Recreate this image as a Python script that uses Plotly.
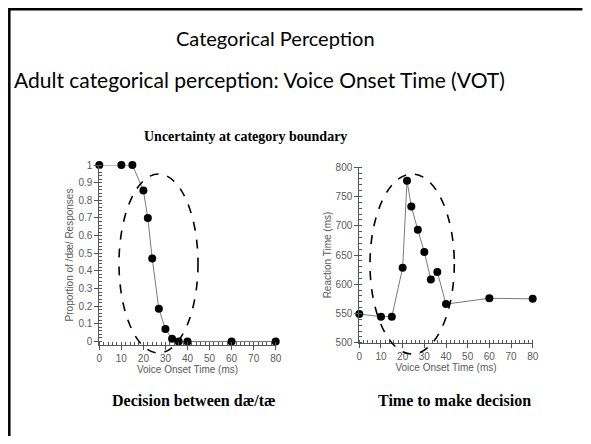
import plotly.graph_objects as go

# page has an 8px body margin on every side; keep the figure inside the window
OFF = 8
W, H = 591 - 2 * OFF, 444 - 2 * OFF

# ---- data ----
vot = [0, 10, 15, 20, 22, 24, 27, 30, 33, 36, 40, 60, 80]
prop_dae = [1, 1, 1, 0.855, 0.70, 0.47, 0.185, 0.07, 0.015, 0, 0, 0, 0]
reaction_ms = [549, 544.5, 544.5, 628, 777, 733, 693, 655, 608, 621, 566, 576, 575]

main_title = "Categorical Perception"
subtitle = "Adult categorical perception: Voice Onset Time (VOT)"
chart_heading = "Uncertainty at category boundary"
left_caption = "Decision between dæ/tæ"
right_caption = "Time to make decision"


def px(x):
    return (x - OFF) / W


def py(y):
    return 1 - (y - OFF) / H


fig = go.Figure()
line_style = dict(color="#7a7a7a", width=1)
marker_style = dict(color="black", size=8)

fig.add_trace(go.Scatter(x=vot, y=prop_dae, mode="lines+markers", line=line_style,
                         marker=marker_style, xaxis="x", yaxis="y", cliponaxis=False,
                         showlegend=False))
fig.add_trace(go.Scatter(x=vot, y=reaction_ms, mode="lines+markers", line=line_style,
                         marker=marker_style, xaxis="x2", yaxis="y2", cliponaxis=False,
                         showlegend=False))

axis_font = dict(family="Liberation Sans, Arial", size=10, color="#5a5a5a")
common = dict(showline=True, linecolor="#555555", linewidth=1, showgrid=False,
              zeroline=False, ticks="outside", ticklen=4, tickcolor="#555555",
              tickfont=axis_font, automargin=False)

fig.update_layout(
    width=W, height=H,
    margin=dict(l=0, r=0, t=0, b=0),
    paper_bgcolor="white", plot_bgcolor="white",
    template="none",
    xaxis=dict(domain=[px(99.3), px(275.7)], range=[0, 80], anchor="y",
               tickvals=[0, 10, 20, 30, 40, 50, 60, 70, 80],
               minor=dict(dtick=2, ticks="inside", ticklen=3, tickcolor="#555555"),
               title=dict(text="Voice Onset Time (ms)", font=axis_font, standoff=2),
               **common),
    yaxis=dict(domain=[py(345), py(165)], range=[-0.02, 1], anchor="x",
               tickvals=[0, 0.1, 0.2, 0.3, 0.4, 0.5, 0.6, 0.7, 0.8, 0.9, 1],
               ticktext=["0", "0.1", "0.2", "0.3", "0.4", "0.5", "0.6", "0.7", "0.8", "0.9", "1"],
               minor=dict(dtick=0.02, tick0=0, ticks="inside", ticklen=3, tickcolor="#555555"),
               title=dict(text="Proportion of /dæ/ Responses", font=axis_font, standoff=2),
               **common),
    xaxis2=dict(domain=[px(359.3), px(532.7)], range=[0, 80], anchor="y2",
                tickvals=[0, 10, 20, 30, 40, 50, 60, 70, 80],
                minor=dict(dtick=2, ticks="inside", ticklen=3, tickcolor="#555555"),
                title=dict(text="Voice Onset Time (ms)", font=axis_font, standoff=2),
                **common),
    yaxis2=dict(domain=[py(342.7), py(167.3)], range=[500, 800], anchor="x2",
                tickvals=[500, 550, 600, 650, 700, 750, 800],
                minor=dict(dtick=10, tick0=500, ticks="inside", ticklen=3, tickcolor="#555555"),
                title=dict(text="Reaction Time (ms)", font=axis_font, standoff=2),
                **common),
)

# dashed ellipses around the category boundary
for x0, x1, y0, y1 in [(119, 198, 353, 174), (370, 454.3, 354, 174)]:
    fig.add_shape(type="circle", xref="paper", yref="paper",
                  x0=px(x0), x1=px(x1), y0=py(y0), y1=py(y1),
                  line=dict(color="black", width=1.6, dash="dash"))

# slide frame (top and left edges) as one open polyline
FR = 9.3
frame_path = "M {:.5f},{:.5f} L {:.5f},{:.5f} L {:.5f},{:.5f}".format(
    px(FR), 0.0, px(FR), py(FR), 0.999, py(FR))
fig.add_shape(type="path", xref="paper", yref="paper", path=frame_path,
              line=dict(color="black", width=2.5), fillcolor="rgba(0,0,0,0)")

sans = "Lato, Open Sans"
serif = "Liberation Serif, Times New Roman"
ann = dict(xref="paper", yref="paper", showarrow=False, yanchor="middle")
fig.add_annotation(text=main_title, x=px(275), y=py(38), xanchor="center",
                   font=dict(family=sans, size=20, color="black"), **ann)
fig.add_annotation(text=subtitle, x=px(12), y=py(79), xanchor="left",
                   font=dict(family=sans, size=21, color="black"), **ann)
fig.add_annotation(text="<b>" + chart_heading + "</b>", x=px(245.5), y=py(137), xanchor="center",
                   font=dict(family=serif, size=14, color="black"), **ann)
fig.add_annotation(text="<b>" + left_caption + "</b>", x=px(193.5), y=py(400), xanchor="center",
                   font=dict(family=serif, size=16, color="black"), **ann)
fig.add_annotation(text="<b>" + right_caption + "</b>", x=px(454.5), y=py(400), xanchor="center",
                   font=dict(family=serif, size=16, color="black"), **ann)

fig.write_html("out.html")
